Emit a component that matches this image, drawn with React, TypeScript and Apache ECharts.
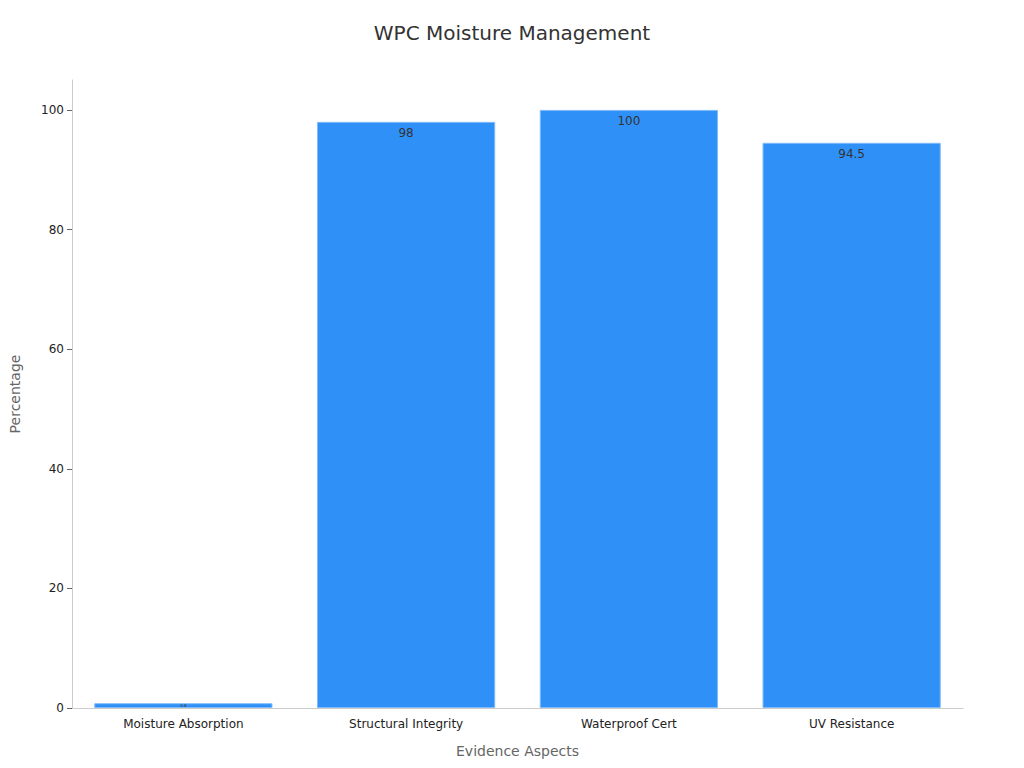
import React, { useEffect, useRef } from "react";
import * as echarts from "echarts";

const categories = ["Moisture Absorption", "Structural Integrity", "Waterproof Cert", "UV Resistance"];
const values = [0.8, 98, 100, 94.5];
const titleText = "WPC Moisture Management";
const xName = "Evidence Aspects";
const yName = "Percentage";

export default function App() {
  const ref = useRef<HTMLDivElement>(null);
  useEffect(() => {
    const chart = echarts.init(ref.current!, null, { renderer: "svg" });
    const data = values.map((v, i) =>
      i === 0 && v < 2
        ? { value: v, label: { fontSize: 4, position: "inside" } }
        : v
    );
    chart.setOption({
      animation: false,
      textStyle: { fontFamily: "DejaVu Sans" },
      title: {
        text: titleText,
        left: "center",
        top: 18,
        textStyle: { fontSize: 20, fontWeight: "normal", color: "#333", fontFamily: "DejaVu Sans" },
      },
      grid: { left: 62, right: 61, top: 80, bottom: 60, containLabel: false },
      xAxis: {
        type: "category",
        data: categories,
        name: xName,
        nameLocation: "middle",
        nameGap: 36,
        nameTextStyle: { fontSize: 14, color: "#666" },
        axisLine: { lineStyle: { color: "#ccc" } },
        axisTick: { alignWithLabel: true, lineStyle: { color: "#666" } },
        axisLabel: { fontSize: 12, color: "#222", margin: 10 },
      },
      yAxis: {
        type: "value",
        min: 0,
        max: 105,
        interval: 20,
        name: yName,
        nameLocation: "middle",
        nameGap: 50,
        nameTextStyle: { fontSize: 14, color: "#666" },
        axisLine: { show: true, lineStyle: { color: "#ccc" } },
        axisTick: { show: true, lineStyle: { color: "#666" } },
        axisLabel: { fontSize: 12, color: "#222", showMaxLabel: false },
        splitLine: { show: false },
      },
      series: [
        {
          type: "bar",
          data,
          barCategoryGap: "20%",
          itemStyle: { color: "#2f91f8", borderColor: "#7fbafa", borderWidth: 1 },
          label: {
            show: true,
            position: "insideTop",
            color: "#333",
            fontSize: 12,
          },
        },
      ],
    });
    return () => chart.dispose();
  }, []);
  return <div ref={ref} style={{ width: 1024, height: 768, position: "absolute", left: 0, top: 0 }} />;
}
